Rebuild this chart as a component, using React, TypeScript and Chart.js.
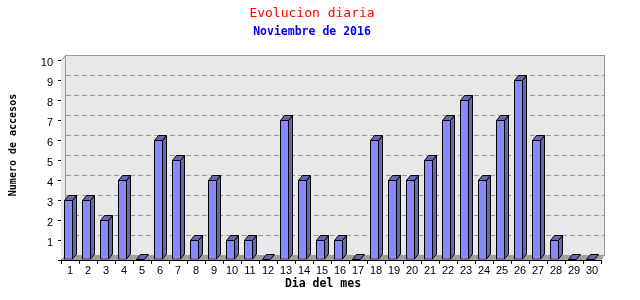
import React, { useEffect, useRef } from 'react';
import { Chart, registerables } from 'chart.js';

Chart.register(...registerables);

const dias: string[] = ['1','2','3','4','5','6','7','8','9','10','11','12','13','14','15','16','17','18','19','20','21','22','23','24','25','26','27','28','29','30'];
const accesos: number[] = [3,3,2,4,0,6,5,1,4,1,1,0,7,4,1,1,0,6,4,4,5,7,8,4,7,9,6,1,0,0];
const yMax = 10;
const tituloTexto = 'Evolucion diaria';
const subtituloTexto = 'Noviembre de 2016';
const ejeXTexto = 'Dia del mes';
const ejeYTexto = 'Numero de accesos';

const DX = 4;
const DY = 5;
const SHIFT = -1.5;
const FRONT = '#8888ff';
const SIDE = '#6868a8';
const MONO = '"DejaVu Sans Mono", monospace';

const threeD = {
  id: 'threeD',
  beforeDatasetsDraw(chart: any) {
    const { ctx, chartArea: a, scales } = chart;
    const y = scales.y;
    ctx.save();
    ctx.fillStyle = '#e8e8e8';
    // side wall
    ctx.beginPath();
    ctx.moveTo(a.left, a.top);
    ctx.lineTo(a.left + DX, a.top - DY);
    ctx.lineTo(a.left + DX, a.bottom - DY);
    ctx.lineTo(a.left, a.bottom);
    ctx.closePath();
    ctx.fill();
    // back wall
    ctx.fillRect(a.left + DX, a.top - DY, a.right - a.left, a.bottom - a.top);
    ctx.strokeStyle = '#999999';
    ctx.lineWidth = 1;
    ctx.strokeRect(a.left + DX + 0.5, a.top - DY + 0.5, a.right - a.left - 1, a.bottom - a.top);
    ctx.beginPath();
    ctx.moveTo(a.left + 0.5, a.top + 0.5);
    ctx.lineTo(a.left + DX + 0.5, a.top - DY + 0.5);
    ctx.stroke();
    // dashed grid on back wall
    ctx.setLineDash([5, 3]);
    for (let v = 1; v < yMax; v++) {
      const py = Math.round(y.getPixelForValue(v)) - DY + 0.5;
      ctx.beginPath();
      ctx.moveTo(a.left + DX + 1, py);
      ctx.lineTo(a.right + DX - 1, py);
      ctx.stroke();
    }
    ctx.setLineDash([]);
    // floor
    ctx.fillStyle = '#a0a0a0';
    ctx.beginPath();
    ctx.moveTo(a.left, a.bottom);
    ctx.lineTo(a.left + DX, a.bottom - DY);
    ctx.lineTo(a.right + DX, a.bottom - DY);
    ctx.lineTo(a.right, a.bottom);
    ctx.closePath();
    ctx.fill();
    ctx.restore();
    ctx.save();
    ctx.translate(SHIFT, 0);
  },
  afterDatasetsDraw(chart: any) {
    const { ctx } = chart;
    ctx.restore();
    ctx.save();
    ctx.translate(SHIFT, 0);
    ctx.lineWidth = 1;
    ctx.strokeStyle = '#000000';
    const meta = chart.getDatasetMeta(0);
    meta.data.forEach((bar: any) => {
      const p = bar.getProps(['x', 'y', 'base', 'width'], true);
      const L = p.x - p.width / 2 + 0.5;
      const R = p.x + p.width / 2 - 0.5;
      const B = Math.max(p.base, p.y) - 0.5;
      const T = Math.min(p.y, p.base) + 0.5;
      const top = Math.min(T, B);
      // side
      if (B > top) {
        ctx.fillStyle = SIDE;
        ctx.beginPath();
        ctx.moveTo(R, top);
        ctx.lineTo(R + DX, top - DY);
        ctx.lineTo(R + DX, B - DY);
        ctx.lineTo(R, B);
        ctx.closePath();
        ctx.fill();
        ctx.stroke();
      }
      // top
      ctx.fillStyle = SIDE;
      ctx.beginPath();
      ctx.moveTo(L, top);
      ctx.lineTo(L + DX, top - DY);
      ctx.lineTo(R + DX, top - DY);
      ctx.lineTo(R, top);
      ctx.closePath();
      ctx.fill();
      ctx.stroke();
    });
    ctx.restore();
  },
  afterDraw(chart: any) {
    const { ctx, chartArea: a } = chart;
    ctx.save();
    ctx.fillStyle = '#000000';
    ctx.textAlign = 'center';
    ctx.textBaseline = 'middle';
    ctx.font = 'bold 11.5px ' + MONO;
    ctx.fillText(ejeXTexto, (a.left + a.right) / 2 - 8, a.bottom + 24);
    ctx.translate(13, (a.top + a.bottom) / 2 - 15);
    ctx.rotate(-Math.PI / 2);
    ctx.font = 'bold 10px ' + MONO;
    ctx.fillText(ejeYTexto, 0, 0);
    ctx.restore();
  },
};

export default function App() {
  const ref = useRef<HTMLCanvasElement | null>(null);
  useEffect(() => {
    if (!ref.current) return;
    const chart = new Chart(ref.current, {
      type: 'bar',
      data: {
        labels: dias,
        datasets: [
          {
            data: accesos,
            backgroundColor: FRONT,
            borderColor: '#000000',
            borderWidth: 1,
            borderSkipped: false,
            barPercentage: 0.5,
            categoryPercentage: 1,
          },
        ],
      },
      options: {
        responsive: false,
        animation: false,
        events: [],
        layout: { padding: { left: 0, right: 16, top: 0, bottom: 0 } },
        plugins: {
          legend: { display: false },
          tooltip: { enabled: false },
          title: {
            display: true,
            text: tituloTexto,
            color: '#ff0000',
            font: { family: MONO, size: 13, weight: 'normal', lineHeight: 1.2 },
            padding: { top: 6, bottom: 2 },
          },
          subtitle: {
            display: true,
            text: subtituloTexto,
            color: '#0000ff',
            font: { family: MONO, size: 11.5, weight: 'bold', lineHeight: 1.2 },
            padding: { top: 1.5, bottom: 21.1 },
          },
        },
        scales: {
          x: {
            grid: { drawOnChartArea: false, drawTicks: true, tickLength: 4, color: '#000000', offset: true },
            border: { display: true, color: '#000000' },
            ticks: {
              color: '#000000',
              font: { family: '"Liberation Sans", Arial, sans-serif', size: 11 },
              padding: 0,
              maxRotation: 0,
              autoSkip: false,
            },
            afterFit: (s: any) => { s.height = 40; },
          },
          y: {
            min: 0,
            max: yMax,
            grid: { drawOnChartArea: false, drawTicks: true, tickLength: 3, color: '#000000' },
            border: { display: true, color: '#000000' },
            ticks: {
              stepSize: 1,
              color: '#000000',
              font: { family: '"Liberation Sans", Arial, sans-serif', size: 11 },
              padding: 5,
              labelOffset: 3,
              callback: (v: any) => (v === 0 ? '' : String(v)),
            },
            afterFit: (s: any) => { s.width = 61; },
          },
          y2: {
            type: 'linear',
            axis: 'y',
            position: 'right',
            display: true,
            grid: { display: false },
            border: { display: false },
            ticks: { display: false },
            afterFit: (s: any) => { s.width = 23; },
          },
        },
      } as any,
      plugins: [threeD],
    });
    return () => chart.destroy();
  }, []);
  return (
    <div style={{ position: 'fixed', left: 0, top: 0, width: 640, height: 300, background: '#ffffff' }}>
      <canvas ref={ref} width={640} height={300} />
    </div>
  );
}
